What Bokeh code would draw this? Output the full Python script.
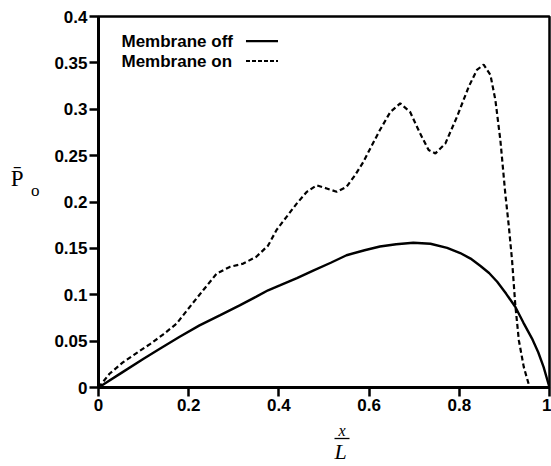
from bokeh.plotting import figure
from bokeh.models import Label, FixedTicker, Range1d, LinearAxis, Title
from bokeh.embed import file_html
from bokeh.resources import INLINE

# ---- data ----
x_off = [0, 0.05, 0.1, 0.136, 0.18, 0.224, 0.27, 0.313, 0.35, 0.376, 0.402,
         0.44, 0.476, 0.515, 0.55, 0.59, 0.624, 0.66, 0.698, 0.736, 0.773,
         0.802, 0.825, 0.847, 0.866, 0.884, 0.904, 0.924, 0.942, 0.961,
         0.975, 0.987, 1.0]
y_off = [0, 0.0155, 0.031, 0.0418, 0.0548, 0.067, 0.078, 0.0886, 0.098,
         0.1048, 0.110, 0.118, 0.126, 0.1345, 0.1426, 0.148, 0.152, 0.1545,
         0.156, 0.155, 0.1505, 0.145, 0.139, 0.131, 0.1235, 0.114, 0.101,
         0.087, 0.070, 0.053, 0.038, 0.022, 0.0]

x_on = [0, 0.01, 0.0244, 0.054, 0.09, 0.115, 0.143, 0.173, 0.202, 0.232,
        0.262, 0.291, 0.321, 0.350, 0.376, 0.395, 0.417, 0.439, 0.462,
        0.484, 0.506, 0.528, 0.550, 0.569, 0.587, 0.605, 0.624, 0.647,
        0.669, 0.691, 0.713, 0.732, 0.747, 0.769, 0.795, 0.821, 0.839,
        0.854, 0.869, 0.88, 0.891, 0.902, 0.910, 0.917, 0.924, 0.932,
        0.943, 0.956]
y_on = [0, 0.006, 0.0148, 0.027, 0.039, 0.047, 0.057, 0.0688, 0.0867,
        0.1048, 0.1228, 0.130, 0.1336, 0.141, 0.153, 0.170, 0.184, 0.198,
        0.211, 0.218, 0.2146, 0.211, 0.2164, 0.229, 0.243, 0.26, 0.2776,
        0.297, 0.3064, 0.297, 0.274, 0.256, 0.2524, 0.263, 0.292, 0.3244,
        0.3424, 0.348, 0.337, 0.31, 0.267, 0.209, 0.173, 0.137, 0.090,
        0.051, 0.022, 0.0]

x_ticks = [0, 0.2, 0.4, 0.6, 0.8, 1.0]
x_tick_labels = ["0", "0.2", "0.4", "0.6", "0.8", "1"]
y_ticks = [0, 0.05, 0.1, 0.15, 0.2, 0.25, 0.3, 0.35, 0.4]
y_tick_labels = ["0", "0.05", "0.1", "0.15", "0.2", "0.25", "0.3", "0.35", "0.4"]

series_names = ["Membrane off", "Membrane on"]

# ---- figure ----
W, H = 551, 466
p = figure(width=W, height=H, output_backend="svg", toolbar_location=None,
           x_range=Range1d(0, 1), y_range=Range1d(0, 0.4),
           min_border_left=98, min_border_right=2, min_border_top=16,
           min_border_bottom=79)
p.grid.visible = False
p.outline_line_color = "black"
p.outline_line_width = 2.5
p.background_fill_color = "white"
p.border_fill_color = "white"

for ax, ticks, labels in ((p.xaxis[0], x_ticks, x_tick_labels),
                          (p.yaxis[0], y_ticks, y_tick_labels)):
    ax.ticker = FixedTicker(ticks=ticks)
    ax.major_label_overrides = {t: l for t, l in zip(ticks, labels)}
    ax.axis_line_width = 3
    ax.axis_line_color = "black"
    ax.major_tick_line_width = 2.5
    ax.major_tick_in = 0
    ax.major_tick_out = 9
    ax.minor_tick_line_color = None
    ax.major_label_text_font = "Liberation Sans"
    ax.major_label_text_font_style = "bold"
    ax.major_label_text_font_size = "17px"
    ax.major_label_text_color = "black"
p.yaxis.major_label_standoff = 2
p.xaxis.major_label_standoff = 2

serif = "Liberation Serif"
NBSP = "\u00a0"

# small spacer below the x tick labels
p.xaxis.axis_label = NBSP
p.xaxis.axis_label_text_font_size = "1px"
p.xaxis.axis_label_standoff = 2

# y label: P-bar with subscript o (label-only axes on the left)
for text, size, standoff, lh in (("o" + "\n" + NBSP, "17px", 12, 1.2),
                                 ("P\u0304" + "\n" + NBSP, "23px", 4, 1.9)):
    ax = LinearAxis(ticker=FixedTicker(ticks=[]), axis_label=text,
                    axis_label_standoff=standoff,
                    axis_label_orientation="horizontal",
                    axis_label_text_font=serif,
                    axis_label_text_font_size=size,
                    axis_label_text_font_style="normal",
                    axis_label_text_line_height=lh,
                    axis_label_text_color="black",
                    major_tick_line_color=None, minor_tick_line_color=None,
                    major_tick_out=0, major_label_standoff=0,
                    axis_line_color=None)
    p.add_layout(ax, "left")

# x label: x over L (fraction)
p.add_layout(Title(text="x", align="left", offset=240, standoff=0,
                   text_font=serif, text_font_style="italic",
                   text_font_size="16px", text_color="black"), "below")
bar = LinearAxis(ticker=FixedTicker(ticks=[]), bounds=(0.523, 0.557),
                 major_tick_line_color=None, minor_tick_line_color=None,
                 major_tick_out=0, major_label_standoff=0,
                 axis_line_color="black", axis_line_width=1.3)
p.add_layout(bar, "below")
p.add_layout(Title(text="L", align="left", offset=236, standoff=0,
                   vertical_align="top",
                   text_font=serif, text_font_style="italic",
                   text_font_size="22px", text_color="black"), "below")

# curves
p.line(x_off, y_off, line_color="black", line_width=2.4)
p.line(x_on, y_on, line_color="black", line_width=2.2, line_dash="5 3")

# ---- legend (text left, sample right) ----
leg_y = [0.3735, 0.352]
p.line([0.327, 0.398], [leg_y[0], leg_y[0]], line_color="black", line_width=2.2)
p.line([0.327, 0.398], [leg_y[1], leg_y[1]], line_color="black", line_width=2.0,
       line_dash="4 2")
for name, yy in zip(series_names, leg_y):
    p.add_layout(Label(x=0.051, y=yy, text=name, text_align="left",
                       text_baseline="middle", text_font="Liberation Sans",
                       text_font_style="bold", text_font_size="17px",
                       text_color="black"))

open("out.html", "w").write(file_html(p, INLINE))
